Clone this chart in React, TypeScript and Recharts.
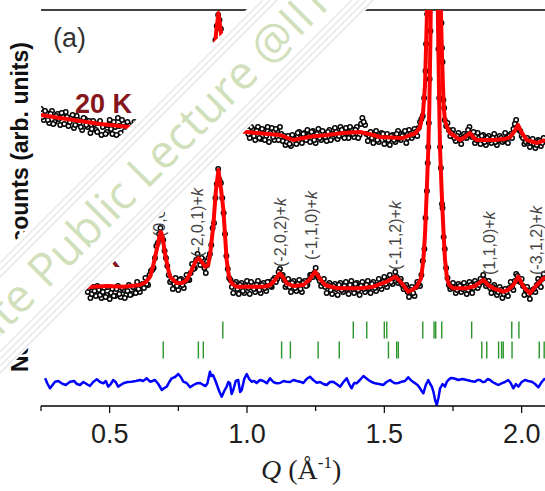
import React from 'react';
import { ComposedChart, Line, XAxis, YAxis, ReferenceLine } from 'recharts';

type P = [number, number];

// ---------- data (Q in 1/Å, intensity in arbitrary offset units) ----------
const fitTop: P[] = [
  [0.25, 291], [0.319, 288], [0.392, 285], [0.465, 282], [0.538, 280], [0.6, 278], [0.683, 277],
  [0.829, 276], [0.847, 276], [0.859, 278], [0.867, 301], [0.877, 331], [0.887, 372], [0.896, 393],
  [0.905, 374], [0.914, 352], [0.926, 303], [0.934, 286], [0.944, 279], [0.962, 275], [1.0, 274],
  [1.047, 272.7], [1.12, 271], [1.168, 266], [1.229, 269.3], [1.291, 271], [1.35, 273], [1.411, 274],
  [1.459, 271], [1.484, 269], [1.568, 268], [1.594, 271], [1.615, 273], [1.63, 279], [1.641, 294],
  [1.648, 320], [1.654, 380], [1.659, 430], [1.666, 520], [1.682, 900], [1.697, 520], [1.703, 430],
  [1.71, 350], [1.716, 300], [1.721, 285], [1.728, 279], [1.739, 273], [1.75, 271], [1.776, 266],
  [1.794, 269], [1.812, 273], [1.826, 268], [1.837, 266], [1.896, 266], [1.939, 267], [1.958, 269],
  [1.972, 274], [1.987, 281], [2.001, 273], [2.019, 266], [2.056, 263], [2.085, 266],
];

const obsTop: P[] = [
  [0.25, 297], [0.26, 286], [0.27, 293], [0.28, 283], [0.29, 295], [0.3, 284], [0.31, 292], [0.32, 281],
  [0.33, 289], [0.34, 294], [0.35, 280], [0.36, 288], [0.37, 278], [0.38, 290], [0.39, 283], [0.4, 276],
  [0.41, 287], [0.42, 279], [0.43, 273], [0.44, 285], [0.45, 276], [0.46, 283], [0.47, 271], [0.48, 280],
  [0.49, 274], [0.5, 286], [0.51, 272], [0.52, 279], [0.53, 288], [0.54, 273], [0.55, 283], [0.56, 270],
  [0.57, 281], [0.58, 276], [0.59, 284], [0.6, 272],
  [0.88, 352], [0.885, 366], [0.89, 380], [0.895, 391], [0.9, 386], [0.905, 377], [0.91, 364], [0.915, 348],
  [1.0, 280], [1.01, 268], [1.02, 277], [1.03, 266], [1.04, 279], [1.05, 267], [1.06, 276], [1.07, 270],
  [1.08, 264], [1.09, 278], [1.1, 266], [1.11, 275], [1.12, 279], [1.13, 265], [1.14, 261], [1.15, 270],
  [1.16, 260], [1.17, 269], [1.18, 262], [1.19, 274], [1.2, 263], [1.21, 273], [1.22, 276], [1.23, 264],
  [1.24, 275], [1.25, 263], [1.26, 277], [1.27, 266], [1.28, 272], [1.29, 265], [1.3, 276], [1.31, 268],
  [1.32, 278], [1.33, 267], [1.34, 279], [1.35, 270], [1.36, 278], [1.37, 268], [1.38, 277], [1.39, 269],
  [1.4, 279], [1.41, 271], [1.42, 288], [1.43, 281], [1.44, 265], [1.45, 274], [1.46, 263], [1.47, 275],
  [1.48, 264], [1.49, 273], [1.5, 262], [1.51, 272], [1.52, 261], [1.53, 271], [1.54, 264], [1.55, 275],
  [1.56, 266], [1.57, 273], [1.58, 263], [1.59, 276], [1.6, 268], [1.61, 277], [1.62, 270], [1.63, 284],
  [1.64, 290], [1.645, 308], [1.65, 335], [1.652, 362], [1.656, 392], [1.66, 440], [1.67, 600],
  [1.68, 850], [1.69, 700], [1.7, 470], [1.705, 420], [1.708, 383], [1.71, 358], [1.712, 344],
  [1.715, 306], [1.718, 298], [1.72, 286], [1.73, 283], [1.74, 270], [1.75, 276], [1.76, 265],
  [1.77, 273], [1.78, 262], [1.79, 272], [1.8, 268], [1.81, 279], [1.82, 269], [1.83, 263], [1.84, 273],
  [1.85, 262], [1.86, 271], [1.87, 261], [1.88, 270], [1.89, 263], [1.9, 272], [1.91, 261], [1.92, 270],
  [1.93, 264], [1.94, 273], [1.95, 263], [1.96, 272], [1.97, 277], [1.98, 286], [1.99, 276], [2.0, 270],
  [2.01, 262], [2.02, 268], [2.03, 259], [2.04, 267], [2.05, 258], [2.06, 266], [2.07, 260], [2.08, 268],
];

// observed points that fall between the ones above (the pattern is sampled twice as finely)
const obsTopInterleaved: P[] = [
  [0.255, 289], [0.265, 295], [0.275, 286], [0.285, 292], [0.295, 282], [0.305, 290], [0.315, 287],
  [0.325, 293], [0.335, 282], [0.345, 289], [0.355, 284], [0.365, 291], [0.375, 281], [0.385, 286],
  [0.395, 279], [0.405, 288], [0.415, 281], [0.425, 285], [0.435, 277], [0.445, 282], [0.455, 274],
  [0.465, 285], [0.475, 279], [0.485, 272], [0.495, 281], [0.505, 277], [0.515, 284], [0.525, 271],
  [0.535, 280], [0.545, 286], [0.555, 275], [0.565, 284], [0.575, 272], [0.585, 279], [0.595, 282],
  [1.005, 272], [1.015, 279], [1.025, 270], [1.035, 275], [1.045, 268], [1.055, 277], [1.065, 266],
  [1.075, 279], [1.085, 273], [1.095, 269], [1.105, 277], [1.115, 266], [1.125, 272], [1.135, 270],
  [1.145, 264], [1.155, 262], [1.165, 271], [1.175, 266], [1.185, 273], [1.195, 268], [1.205, 272],
  [1.215, 266], [1.225, 270], [1.235, 274], [1.245, 266], [1.255, 272], [1.265, 268], [1.275, 275],
  [1.285, 269], [1.295, 274], [1.305, 266], [1.315, 272], [1.325, 274], [1.335, 270], [1.345, 276],
  [1.355, 268], [1.365, 273], [1.375, 279], [1.385, 272], [1.395, 276], [1.405, 268], [1.415, 282],
  [1.425, 284], [1.435, 272], [1.445, 270], [1.455, 268], [1.465, 271], [1.475, 266], [1.485, 270],
  [1.495, 272], [1.505, 267], [1.515, 266], [1.525, 270], [1.535, 266], [1.545, 272], [1.555, 268],
  [1.565, 270], [1.575, 275], [1.585, 268], [1.595, 272], [1.605, 271], [1.615, 274], [1.625, 278],
  [1.635, 287], [1.725, 280], [1.735, 276], [1.745, 273], [1.755, 268], [1.765, 270], [1.775, 266],
  [1.785, 268], [1.795, 270], [1.805, 276], [1.815, 272], [1.825, 274], [1.835, 266], [1.845, 268],
  [1.855, 270], [1.865, 264], [1.875, 268], [1.885, 266], [1.895, 268], [1.905, 264], [1.915, 266],
  [1.925, 268], [1.935, 266], [1.945, 268], [1.955, 270], [1.965, 268], [1.975, 282], [1.985, 279],
  [1.995, 275], [2.005, 268], [2.015, 264], [2.025, 265], [2.035, 263], [2.045, 262], [2.055, 261],
  [2.065, 265], [2.075, 263],
];

const fitBottom: P[] = [
  [0.25, 118], [0.319, 118], [0.421, 119], [0.489, 120], [0.55, 119.3], [0.61, 121], [0.632, 124],
  [0.647, 129.3], [0.658, 140], [0.671, 156], [0.68, 168], [0.686, 174.3], [0.692, 170], [0.701, 153],
  [0.712, 138], [0.72, 129.3], [0.744, 123], [0.763, 123], [0.78, 126], [0.792, 132], [0.804, 139.3],
  [0.814, 145], [0.823, 147.7], [0.833, 145], [0.847, 139.3], [0.859, 141], [0.867, 155], [0.877, 179.3],
  [0.887, 216], [0.896, 236], [0.905, 218], [0.914, 196], [0.926, 146], [0.934, 130], [0.944, 122.7],
  [0.962, 119.3], [1.035, 119.3], [1.066, 119.5], [1.084, 121], [1.102, 126], [1.12, 132.7], [1.133, 128],
  [1.145, 122.7], [1.169, 120], [1.205, 121], [1.226, 126], [1.248, 134.3], [1.266, 127], [1.284, 121],
  [1.327, 117.7], [1.411, 117.7], [1.46, 119.3], [1.509, 124.3], [1.539, 129.3], [1.553, 126], [1.569, 121],
  [1.587, 114.3], [1.601, 116], [1.618, 119.3], [1.634, 128], [1.642, 146], [1.648, 171], [1.654, 211],
  [1.66, 256], [1.664, 300], [1.668, 370], [1.672, 470], [1.682, 800], [1.692, 470], [1.696, 370],
  [1.7, 300], [1.703, 256], [1.71, 206], [1.716, 171], [1.721, 146], [1.728, 128], [1.736, 121],
  [1.751, 117.7], [1.8, 117.7], [1.83, 120], [1.86, 126], [1.878, 121], [1.897, 117.7], [1.933, 114.3],
  [1.95, 116], [1.97, 121], [1.988, 129.3], [2.001, 122], [2.012, 117.7], [2.03, 112.7], [2.055, 121],
  [2.079, 127.7], [2.085, 128],
];

const obsBottom: P[] = [
  [0.42, 114], [0.43, 108], [0.44, 119], [0.45, 110], [0.46, 116], [0.47, 108], [0.48, 118], [0.49, 111],
  [0.5, 107], [0.51, 117], [0.52, 110], [0.53, 120], [0.54, 109], [0.55, 116], [0.56, 111], [0.57, 121],
  [0.58, 112], [0.59, 118], [0.6, 124], [0.61, 114], [0.62, 122], [0.63, 128], [0.64, 121], [0.65, 135],
  [0.66, 138], [0.67, 160], [0.675, 163], [0.68, 172], [0.685, 178], [0.69, 168], [0.695, 166], [0.7, 155],
  [0.71, 140], [0.72, 124], [0.73, 117], [0.74, 128], [0.75, 116], [0.76, 127], [0.77, 118], [0.78, 131],
  [0.79, 126], [0.8, 142], [0.81, 138], [0.82, 152], [0.83, 141], [0.84, 146], [0.85, 133], [0.86, 148],
  [0.87, 161], [0.875, 178], [0.88, 183], [0.885, 208], [0.89, 222], [0.895, 237], [0.9, 226],
  [0.905, 223], [0.91, 208], [0.915, 193], [0.92, 172], [0.93, 137], [0.94, 126], [0.95, 113], [0.96, 124],
  [0.97, 112], [0.98, 123], [0.99, 113], [1.0, 125], [1.01, 112], [1.02, 122], [1.03, 114], [1.04, 125],
  [1.05, 113], [1.06, 123], [1.07, 115], [1.08, 124], [1.09, 119], [1.1, 128], [1.11, 127], [1.12, 137],
  [1.13, 131], [1.14, 119], [1.15, 127], [1.16, 114], [1.17, 125], [1.18, 115], [1.19, 126], [1.2, 114],
  [1.21, 125], [1.22, 121], [1.23, 131], [1.24, 129], [1.25, 138], [1.26, 128], [1.27, 120], [1.28, 127],
  [1.29, 113], [1.3, 123], [1.31, 112], [1.32, 122], [1.33, 111], [1.34, 123], [1.35, 114], [1.36, 124],
  [1.37, 112], [1.38, 125], [1.39, 113], [1.4, 123], [1.41, 111], [1.42, 124], [1.43, 114], [1.44, 125],
  [1.45, 113], [1.46, 124], [1.47, 115], [1.48, 127], [1.49, 117], [1.5, 129], [1.51, 119], [1.52, 131],
  [1.53, 122], [1.54, 134], [1.55, 123], [1.56, 127], [1.57, 117], [1.58, 121], [1.59, 109], [1.6, 119],
  [1.61, 110], [1.62, 124], [1.63, 120], [1.64, 145], [1.646, 157], [1.65, 188], [1.655, 215],
  [1.658, 243], [1.66, 259], [1.662, 283], [1.665, 327], [1.668, 375], [1.67, 412], [1.68, 700],
  [1.69, 540], [1.695, 413], [1.697, 357], [1.7, 308], [1.703, 259], [1.706, 238], [1.71, 202],
  [1.712, 198], [1.716, 169], [1.72, 157], [1.73, 128], [1.74, 117], [1.75, 123], [1.76, 113], [1.77, 122],
  [1.78, 114], [1.79, 123], [1.8, 112], [1.81, 124], [1.82, 113], [1.83, 125], [1.84, 118], [1.85, 127],
  [1.86, 131], [1.87, 120], [1.88, 125], [1.89, 113], [1.9, 121], [1.91, 111], [1.92, 119], [1.93, 108],
  [1.94, 117], [1.95, 110], [1.96, 124], [1.97, 116], [1.98, 132], [1.99, 125], [2.0, 127], [2.01, 111],
  [2.02, 119], [2.03, 107], [2.04, 116], [2.05, 114], [2.06, 127], [2.07, 119], [2.08, 132],
];

const obsBottomInterleaved: P[] = [
  [0.425, 118], [0.435, 112], [0.445, 115], [0.455, 120], [0.465, 111], [0.475, 114], [0.485, 109],
  [0.495, 119], [0.505, 113], [0.515, 110], [0.525, 117], [0.535, 112], [0.545, 118], [0.555, 108],
  [0.565, 115], [0.575, 111], [0.585, 119], [0.595, 113], [0.605, 117], [0.615, 121], [0.625, 118],
  [0.635, 122], [0.645, 131], [0.655, 136], [0.665, 148], [0.705, 148], [0.715, 131], [0.725, 126],
  [0.735, 122], [0.745, 120], [0.755, 126], [0.765, 121], [0.775, 125], [0.785, 127], [0.795, 133],
  [0.805, 137], [0.815, 146], [0.825, 145], [0.835, 148], [0.845, 138], [0.855, 141], [0.865, 152],
  [0.925, 150], [0.935, 128], [0.945, 119], [0.955, 122], [0.965, 117], [0.975, 121], [0.985, 115],
  [0.995, 120], [1.005, 118], [1.015, 124], [1.025, 117], [1.035, 121], [1.045, 116], [1.055, 121],
  [1.065, 118], [1.075, 124], [1.085, 120], [1.095, 126], [1.105, 124], [1.115, 134], [1.125, 130],
  [1.135, 126], [1.145, 121], [1.155, 119], [1.165, 123], [1.175, 118], [1.185, 122], [1.195, 117],
  [1.205, 123], [1.215, 120], [1.225, 126], [1.235, 131], [1.245, 133], [1.255, 131], [1.265, 125],
  [1.275, 123], [1.285, 119], [1.295, 121], [1.305, 116], [1.315, 120], [1.325, 117], [1.335, 121],
  [1.345, 116], [1.355, 120], [1.365, 117], [1.375, 121], [1.385, 117], [1.395, 122], [1.405, 116],
  [1.415, 120], [1.425, 117], [1.435, 121], [1.445, 118], [1.455, 122], [1.465, 118], [1.475, 121],
  [1.485, 120], [1.495, 124], [1.505, 122], [1.515, 126], [1.525, 124], [1.535, 128], [1.545, 129],
  [1.555, 125], [1.565, 121], [1.575, 119], [1.585, 114], [1.595, 116], [1.605, 113], [1.615, 119],
  [1.625, 122], [1.635, 131], [1.725, 138], [1.735, 121], [1.745, 119], [1.755, 118], [1.765, 116],
  [1.775, 120], [1.785, 117], [1.795, 119], [1.805, 116], [1.815, 121], [1.825, 118], [1.835, 122],
  [1.845, 121], [1.855, 124], [1.865, 126], [1.875, 122], [1.885, 118], [1.895, 119], [1.905, 116],
  [1.915, 114], [1.925, 116], [1.935, 112], [1.945, 114], [1.955, 118], [1.965, 119], [1.975, 125],
  [1.985, 130], [1.995, 124], [2.005, 120], [2.015, 116], [2.025, 112], [2.035, 114], [2.045, 117],
  [2.055, 121], [2.065, 124], [2.075, 127],
];

const difference: P[] = [
  [0.265, 27.7], [0.274, 22], [0.283, 17.7], [0.292, 21], [0.301, 24.3], [0.313, 25], [0.325, 22.7],
  [0.34, 21], [0.356, 24.3], [0.37, 25], [0.381, 22], [0.392, 21], [0.404, 24], [0.416, 22], [0.428, 20],
  [0.44, 24], [0.453, 26.7], [0.465, 24], [0.477, 22.7], [0.486, 25], [0.495, 19.3], [0.504, 22],
  [0.513, 26], [0.522, 24], [0.531, 19.3], [0.54, 21], [0.55, 22.7], [0.565, 24], [0.58, 24.3],
  [0.595, 25], [0.611, 26], [0.622, 25], [0.635, 27.7], [0.647, 24.3], [0.656, 25], [0.665, 26],
  [0.677, 22], [0.69, 16], [0.699, 18], [0.708, 19.3], [0.717, 24], [0.726, 27.7], [0.738, 29],
  [0.75, 32], [0.759, 29], [0.768, 24.3], [0.78, 23], [0.793, 18.7], [0.805, 21], [0.817, 22.7],
  [0.829, 23], [0.841, 21], [0.849, 20], [0.856, 22.7], [0.865, 34.3], [0.87, 30], [0.876, 31],
  [0.884, 26], [0.892, 20], [0.9, 14], [0.908, 9.3], [0.917, 15], [0.926, 19.3], [0.932, 24],
  [0.938, 22.7], [0.944, 12], [0.95, 16], [0.959, 25], [0.968, 26], [0.975, 14], [0.981, 16],
  [0.99, 27], [0.999, 32], [1.008, 27], [1.017, 24.3], [1.026, 25], [1.035, 23], [1.047, 26],
  [1.06, 25], [1.072, 22.7], [1.084, 27.7], [1.096, 24], [1.108, 22.7], [1.12, 23], [1.133, 25],
  [1.145, 24.3], [1.157, 24], [1.169, 26], [1.181, 25], [1.193, 24.3], [1.205, 23], [1.217, 27],
  [1.229, 29.3], [1.241, 26], [1.254, 23.3], [1.266, 24], [1.278, 22], [1.29, 21], [1.302, 24],
  [1.314, 24.3], [1.326, 22], [1.339, 19.3], [1.351, 24], [1.363, 27.7], [1.372, 22], [1.381, 17.7],
  [1.39, 23], [1.399, 22.7], [1.411, 26], [1.424, 30], [1.433, 28], [1.442, 26], [1.454, 24],
  [1.466, 22.7], [1.481, 22], [1.496, 21], [1.508, 24], [1.521, 26], [1.53, 24], [1.539, 22.7],
  [1.551, 23], [1.563, 24.3], [1.575, 25], [1.587, 28.7], [1.6, 25], [1.612, 22.7], [1.621, 21],
  [1.63, 17.7], [1.636, 15], [1.642, 12.7], [1.651, 21], [1.66, 26], [1.667, 22], [1.673, 19.3],
  [1.679, 14], [1.685, 6], [1.691, 1], [1.697, 8], [1.703, 17.7], [1.712, 22], [1.721, 19.3],
  [1.727, 24], [1.733, 26], [1.742, 28], [1.751, 27.7], [1.76, 27], [1.769, 26], [1.785, 27], [1.8, 26],
  [1.815, 25], [1.83, 24.3], [1.839, 26], [1.848, 26], [1.858, 24], [1.867, 24.3], [1.876, 27],
  [1.885, 26], [1.894, 24], [1.903, 22.7], [1.915, 21], [1.927, 22.7], [1.939, 24], [1.951, 26],
  [1.96, 23], [1.97, 17.7], [1.979, 22], [1.988, 19.3], [2.0, 24], [2.012, 26], [2.024, 25],
  [2.037, 24.3], [2.049, 22], [2.061, 18.7], [2.073, 24], [2.085, 27.7],
];

const braggRow1Q = [0.912, 1.387, 1.436, 1.5, 1.509, 1.64, 1.681, 1.687, 1.709, 1.818, 1.964, 1.99];
const braggRow2Q = [
  0.695, 0.823, 0.841, 1.126, 1.158, 1.259, 1.336, 1.515, 1.545, 1.551, 1.855, 1.873, 1.916, 1.927,
  1.933, 1.965, 2.064, 2.082,
];
const braggRow1Level = 76;
const braggRow2Level = 56;

const hklNames = ['(0,0,1)', '(-2,0,1)', '(-2,0,2)', '(-1,1,0)', '(-1,1,2)', '(1,1,0)', '(-3,1,2)'];
const hklQ = [0.685, 0.822, 1.127, 1.24, 1.546, 1.885, 2.056];
const hklLevel = [169, 149, 139, 146, 136, 131, 131];

const xTicks = [0.25, 0.5, 0.75, 1, 1.25, 1.5, 1.75, 2];
const majorTicks = [0.5, 1, 1.5, 2];
const majorTickLabels = ['0.5', '1.0', '1.5', '2.0'];

// ---------- helpers ----------
const rows = (a: P[]) => a.map(([q, v]) => ({ q, v }));
const braggRows = (qs: number[], level: number) => qs.map((q) => ({ q, v: level }));
const hklRows = hklQ.map((q, i) => ({ q, v: hklLevel[i], name: hklNames[i] }));

const SANS = '"Liberation Sans", Arial, sans-serif';
const SERIF = '"Liberation Serif", "Times New Roman", serif';

const ObsDot = (props: any) => {
  const { cx, cy, index } = props;
  if (cx == null || cy == null || isNaN(cy)) return <g key={`o${index}`} />;
  return <circle key={`o${index}`} cx={cx} cy={cy} r={2.2} fill="#fff" stroke="#000" strokeWidth={1.5} />;
};

const BraggDot = (props: any) => {
  const { cx, cy, index } = props;
  if (cx == null || cy == null) return <g key={`b${index}`} />;
  return <line key={`b${index}`} x1={cx} x2={cx} y1={cy - 8.5} y2={cy + 8.5} stroke="#2a952a" strokeWidth={1.4} />;
};

const HklDot = (props: any) => {
  const { cx, cy, index, payload } = props;
  if (cx == null || cy == null) return <g key={`h${index}`} />;
  return (
    <text
      key={`h${index}`}
      transform={`translate(${cx + 4.5},${cy}) rotate(-90)`}
      fontSize={16}
      fontFamily={SANS}
      fill="#444"
    >
      {payload.name}+<tspan fontStyle="italic">k</tspan>
    </text>
  );
};

const XTick = (props: any) => {
  const { x, y, payload } = props;
  const idx = majorTicks.indexOf(payload.value);
  const major = idx >= 0;
  return (
    <g>
      <line x1={x} x2={x} y1={y} y2={y + (major ? 7 : 5)} stroke="#000" strokeWidth={1.2} />
      {major && (
        <text x={x} y={y + 37} textAnchor="middle" fontSize={27} fontFamily={SANS} fill="#1e1e1e">
          {majorTickLabels[idx]}
        </text>
      )}
    </g>
  );
};

const stripeOffsets = [263, 270, 277, 352, 359, 366, 373];

export default function App() {
  const fitProps: any = { zIndex: 650 };
  const obsProps: any = { stroke: 'none', dot: ObsDot, activeDot: false, isAnimationActive: false, dataKey: 'v' };
  return (
    <div
      style={{
        position: 'absolute',
        left: 0,
        top: 0,
        width: 545,
        height: 491,
        overflow: 'hidden',
        background: '#fff',
      }}
    >
      <ComposedChart width={545} height={491} margin={{ top: 10, right: 0, left: 41, bottom: 0 }}>
        <XAxis
          type="number"
          dataKey="q"
          domain={[0.25, 2.085]}
          allowDataOverflow
          ticks={xTicks}
          interval={0}
          tickSize={0}
          tickMargin={0}
          tickLine={false}
          tick={<XTick />}
          axisLine={{ stroke: '#000', strokeWidth: 1.3 }}
          height={85}
        />
        <YAxis
          type="number"
          dataKey="v"
          domain={[0, 396]}
          allowDataOverflow
          width={0}
          tick={false}
          tickLine={false}
          axisLine={{ stroke: '#000', strokeWidth: 1.3 }}
        />
        <ReferenceLine y={396} stroke="#000" strokeWidth={1.3} />
        <Line {...obsProps} data={rows(obsTop)} />
        <Line {...obsProps} data={rows(obsTopInterleaved)} />
        <Line {...obsProps} data={rows(obsBottom)} />
        <Line {...obsProps} data={rows(obsBottomInterleaved)} />
        <Line {...fitProps} data={rows(fitTop)} dataKey="v" stroke="#ff0000" strokeWidth={4} strokeLinejoin="round" dot={false} activeDot={false} isAnimationActive={false} />
        <Line {...fitProps} data={rows(fitBottom)} dataKey="v" stroke="#ff0000" strokeWidth={4} strokeLinejoin="round" dot={false} activeDot={false} isAnimationActive={false} />
        <Line data={braggRows(braggRow1Q, braggRow1Level)} dataKey="v" stroke="none" dot={BraggDot} activeDot={false} isAnimationActive={false} />
        <Line data={braggRows(braggRow2Q, braggRow2Level)} dataKey="v" stroke="none" dot={BraggDot} activeDot={false} isAnimationActive={false} />
        <Line data={rows(difference)} dataKey="v" stroke="#0000ff" strokeWidth={2.5} strokeLinejoin="round" dot={false} activeDot={false} isAnimationActive={false} />
        <Line data={hklRows} dataKey="v" stroke="none" dot={HklDot} activeDot={false} isAnimationActive={false} />
      </ComposedChart>

      <svg
        width={545}
        height={491}
        style={{ position: 'absolute', left: 0, top: 0, pointerEvents: 'none' }}
      >
        <text transform="translate(28,42) rotate(-90)" textAnchor="end" fontSize={23} fontWeight="bold" fontFamily={SANS} fill="#111">
          counts (arb. units)
        </text>
        <text transform="translate(28,372) rotate(-90)" textAnchor="start" fontSize={23} fontWeight="bold" fontFamily={SANS} fill="#111">
          Neutron
        </text>
        <text x={53} y={47} fontSize={27} fontFamily={SANS} fill="#333">(a)</text>
        <text x={75} y={113} fontSize={27} fontWeight="bold" fontFamily={SANS} fill="#86161a">20 K</text>
        <text x={120} y={267} textAnchor="end" fontSize={27} fontWeight="bold" fontFamily={SANS} fill="#86161a">1.5 K</text>
        <text x={261} y={479} fontSize={28} fontFamily={SERIF} fill="#1e1e1e">
          <tspan fontStyle="italic">Q</tspan>
          <tspan> (Å</tspan>
          <tspan fontSize={17} dy={-11}>-1</tspan>
          <tspan dy={11}>)</tspan>
        </text>

        {/* watermark band */}
        <polygon points="0,256 256,0 376,0 0,376" fill="#fff" />
        {stripeOffsets.map((c) => (
          <line key={c} x1={0} y1={c} x2={c} y2={0} stroke="#e6e6e6" strokeWidth={1.4} />
        ))}
        <g transform="translate(47,290) rotate(-45)">
          <text x={0} y={0} fontSize={46} fontFamily='"Open Sans", sans-serif' fill="#d0e0bb">
            Public Lecture @IIT
          </text>
          <text x={-13} y={0} textAnchor="end" fontSize={46} fontFamily='"Open Sans", sans-serif' fill="#d0e0bb">
            Institute
          </text>
        </g>
      </svg>
    </div>
  );
}
